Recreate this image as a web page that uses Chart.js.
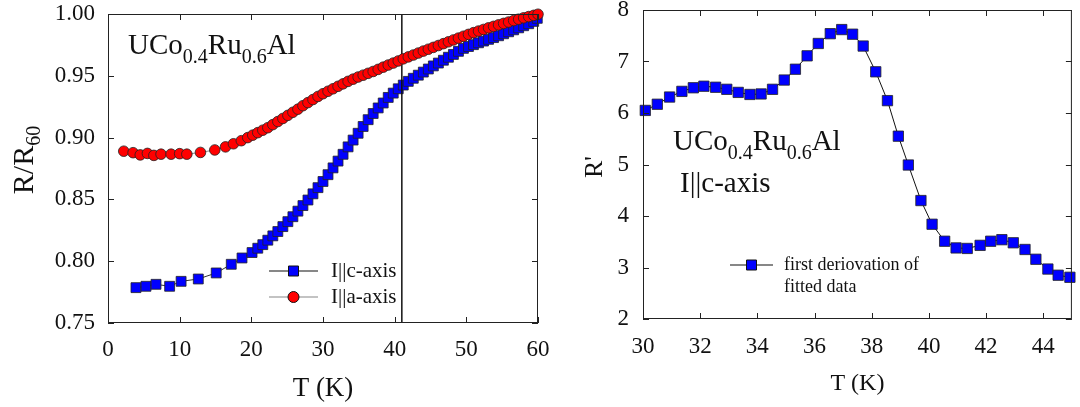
<!DOCTYPE html>
<html>
<head>
<meta charset="utf-8">
<script src="https://cdn.jsdelivr.net/npm/chart.js@4"></script>
<style>
html, body { margin: 0; padding: 0; background: #fff; }
#wrap { position: relative; width: 1080px; height: 407px; overflow: hidden; }
canvas { position: absolute; top: 0; }
</style>
</head>
<body>
<div id="wrap">
  <canvas id="left" width="560" height="407" style="left:0"></canvas>
  <canvas id="right" width="500" height="407" style="left:580px"></canvas>
</div>
<script>
// R/R60 vs T, current along c-axis (blue squares)
const blueT = [3.9, 5.3, 6.7, 8.6, 10.2, 12.6, 15.1, 17.2, 18.7,
    20.1, 20.9, 21.6, 22.3, 23.0, 23.7, 24.4, 25.1, 25.8, 26.5, 27.2, 27.9, 28.6, 29.3, 30.0,
    30.7, 31.4, 32.1, 32.8, 33.5, 34.2, 34.9, 35.6, 36.3, 37.0, 37.7, 38.4, 39.1, 39.8, 40.5,
    41.2, 41.9, 42.6, 43.3, 44.0, 44.7, 45.4, 46.1, 46.8, 47.5, 48.2, 48.9, 49.6, 50.3, 51.0,
    51.7, 52.4, 53.1, 53.8, 54.5, 55.2, 55.9, 56.6, 57.3, 58.0, 58.7, 59.4, 59.9];
const blueR = [0.7786, 0.7797, 0.7813, 0.7797, 0.7837, 0.7856, 0.7905, 0.7975, 0.8026,
    0.8070, 0.8105, 0.8134, 0.8170, 0.8205, 0.8240, 0.8280, 0.8320, 0.8360, 0.8405, 0.8450, 0.8495, 0.8545, 0.8595, 0.8645,
    0.8700, 0.8755, 0.8810, 0.8865, 0.8925, 0.8980, 0.9035, 0.9090, 0.9145, 0.9195, 0.9240, 0.9280, 0.9325, 0.9360, 0.9395,
    0.9425, 0.9455, 0.9480, 0.9505, 0.9530, 0.9555, 0.9580, 0.9603, 0.9626, 0.9650, 0.9673, 0.9698, 0.9722, 0.9737, 0.9752,
    0.9767, 0.9781, 0.9795, 0.9809, 0.9824, 0.9840, 0.9856, 0.9872, 0.9888, 0.9905, 0.9921, 0.9940, 0.9965];

// current along a-axis (red circles)
const redT = [2.2, 3.5, 4.5, 5.5, 6.4, 7.4, 8.8, 10.0, 11.0, 12.9, 14.9, 16.4, 17.5, 18.6, 19.5,
    20.2, 20.9, 21.6, 22.3, 23.0, 23.7, 24.4, 25.1, 25.8, 26.5, 27.2, 27.9, 28.6, 29.3, 30.0,
    30.7, 31.4, 32.1, 32.8, 33.5, 34.2, 34.9, 35.6, 36.3, 37.0, 37.7, 38.4, 39.1, 39.8, 40.5,
    41.2, 41.9, 42.6, 43.3, 44.0, 44.7, 45.4, 46.1, 46.8, 47.5, 48.2, 48.9, 49.6, 50.3, 51.0,
    51.7, 52.4, 53.1, 53.8, 54.5, 55.2, 55.9, 56.6, 57.3, 58.0, 58.7, 59.4, 60.0];
const redR = [0.8890, 0.8878, 0.8860, 0.8872, 0.8856, 0.8866, 0.8866, 0.8870, 0.8866, 0.8880, 0.8900, 0.8925, 0.8950, 0.8975, 0.9000,
    0.9020, 0.9040, 0.9060, 0.9080, 0.9105, 0.9130, 0.9155, 0.9180, 0.9205, 0.9230, 0.9258, 0.9283, 0.9308, 0.9333, 0.9355,
    0.9375, 0.9395, 0.9415, 0.9435, 0.9455, 0.9473, 0.9490, 0.9505, 0.9520, 0.9535, 0.9552, 0.9570, 0.9587, 0.9603, 0.9620,
    0.9637, 0.9653, 0.9668, 0.9684, 0.9700, 0.9715, 0.9730, 0.9745, 0.9760, 0.9775, 0.9790, 0.9805, 0.9820, 0.9835, 0.9849,
    0.9862, 0.9875, 0.9888, 0.9900, 0.9912, 0.9924, 0.9935, 0.9947, 0.9958, 0.9969, 0.9979, 0.9989, 0.9998];

const markerT = 41; // vertical line on the left panel

// first derivative of fitted data (right panel)
const derivT = [30.08, 30.5, 30.93, 31.36, 31.76, 32.13, 32.54, 32.93, 33.33, 33.74, 34.13, 34.53, 34.94,
    35.33, 35.74, 36.13, 36.55, 36.95, 37.33, 37.7, 38.14, 38.55, 38.93, 39.28, 39.72, 40.11,
    40.55, 40.95, 41.34, 41.79, 42.16, 42.55, 42.95, 43.36, 43.74, 44.16, 44.52, 44.93];
const derivR = [6.05, 6.17, 6.31, 6.42, 6.49, 6.52, 6.50, 6.46, 6.40, 6.36, 6.37, 6.46, 6.64,
    6.85, 7.11, 7.35, 7.54, 7.62, 7.53, 7.30, 6.80, 6.24, 5.55, 4.99, 4.30, 3.84,
    3.51, 3.38, 3.37, 3.43, 3.51, 3.54, 3.48, 3.35, 3.16, 2.97, 2.85, 2.81];

const leftX = { min: 0, max: 60, step: 10 };
const leftY = { min: 0.75, max: 1.0, step: 0.05 };
const rightX = { min: 30, max: 45, step: 2 };
const rightY = { min: 2, max: 8, step: 1 };

const FONT = 'Liberation Serif';
const INK = '#111';
const BLUE = '#0000ff';
const RED = '#ff0000';

const pts = (xs, ys) => xs.map((x, i) => ({ x, y: ys[i] }));

// text runs with subscripts: [[text, isSub], ...]
function richText(ctx, parts, x, y, size, subSize, measureOnly) {
    let w = 0;
    parts.forEach(([s, sub]) => {
        ctx.font = (sub ? subSize : size) + 'px "' + FONT + '"';
        if (!measureOnly) ctx.fillText(s, x + w, sub ? y + size * 0.32 : y);
        w += ctx.measureText(s).width;
    });
    return w;
}

const formula = [['UCo', false], ['0.4', true], ['Ru', false], ['0.6', true], ['Al', false]];

function drawFrame(chart) {
    const { ctx, chartArea: a, scales: { x, y } } = chart;
    const tl = 6;
    ctx.save();
    ctx.strokeStyle = '#222';
    ctx.lineWidth = 1;
    ctx.strokeRect(a.left + 0.5, a.top + 0.5, a.right - a.left - 1, a.bottom - a.top - 1);
    ctx.beginPath();
    x.ticks.forEach(t => {
        const px = Math.round(x.getPixelForValue(t.value)) + 0.5;
        ctx.moveTo(px, a.bottom); ctx.lineTo(px, a.bottom - tl);
        ctx.moveTo(px, a.top); ctx.lineTo(px, a.top + tl);
    });
    y.ticks.forEach(t => {
        const py = Math.round(y.getPixelForValue(t.value)) + 0.5;
        ctx.moveTo(a.left, py); ctx.lineTo(a.left + tl, py);
        ctx.moveTo(a.right, py); ctx.lineTo(a.right - tl, py);
    });
    ctx.stroke();
    ctx.restore();
}

function legendMark(ctx, x1, x2, y, lineColor, shape, fill, size) {
    ctx.strokeStyle = lineColor;
    ctx.lineWidth = 1.2;
    ctx.beginPath(); ctx.moveTo(x1, y); ctx.lineTo(x2, y); ctx.stroke();
    const cx = (x1 + x2) / 2;
    ctx.fillStyle = fill;
    ctx.strokeStyle = '#111';
    ctx.lineWidth = 1;
    ctx.beginPath();
    if (shape === 'rect') ctx.rect(cx - size / 2, y - size / 2, size, size);
    else ctx.arc(cx, y, size / 2, 0, Math.PI * 2);
    ctx.fill(); ctx.stroke();
}

function rotatedTitle(ctx, parts, cx, cy, size, subSize) {
    ctx.save();
    ctx.translate(cx, cy);
    ctx.rotate(-Math.PI / 2);
    ctx.fillStyle = INK;
    ctx.textBaseline = 'middle';
    const w = richText(ctx, parts, 0, 0, size, subSize, true);
    richText(ctx, parts, -w / 2, 0, size, subSize);
    ctx.restore();
}

const leftDecor = {
    id: 'leftDecor',
    afterDraw(chart) {
        const ctx = chart.ctx;
        drawFrame(chart);
        ctx.save();
        ctx.fillStyle = INK;
        ctx.textBaseline = 'alphabetic';
        richText(ctx, formula, 128, 54, 29, 20);
        rotatedTitle(ctx, [['R/R', false], ['60', true]], 25, 160, 30, 20);
        legendMark(ctx, 269, 318, 271, '#111', 'rect', BLUE, 10);
        legendMark(ctx, 269, 318, 297, '#888', 'circle', RED, 11);
        ctx.fillStyle = INK;
        ctx.textBaseline = 'middle';
        ctx.font = '21px "' + FONT + '"';
        ctx.fillText('I||c-axis', 331, 271);
        ctx.fillText('I||a-axis', 331, 297);
        ctx.restore();
    }
};

const rightDecor = {
    id: 'rightDecor',
    afterDraw(chart) {
        const ctx = chart.ctx;
        drawFrame(chart);
        ctx.save();
        ctx.fillStyle = INK;
        ctx.textBaseline = 'alphabetic';
        richText(ctx, formula, 93, 150, 29, 20);
        ctx.font = '29px "' + FONT + '"';
        ctx.fillText('I||c-axis', 100, 192);
        rotatedTitle(ctx, [["R'", false]], 15, 167, 26, 18);
        legendMark(ctx, 150, 193, 265, '#111', 'rect', BLUE, 10);
        ctx.fillStyle = INK;
        ctx.textBaseline = 'middle';
        ctx.font = '18px "' + FONT + '"';
        ctx.fillText('first deriovation of', 204, 265);
        ctx.fillText('fitted data', 204, 287);
        ctx.restore();
    }
};

function axis(range, opts) {
    return {
        type: 'linear',
        min: range.min,
        max: range.max,
        grid: { display: false, drawTicks: false },
        border: { display: false },
        ticks: Object.assign({
            stepSize: range.step,
            includeBounds: false,
            color: INK,
            font: { family: FONT, size: 23 },
            maxRotation: 0,
            autoSkip: false
        }, opts.ticks || {}),
        title: opts.title || { display: false },
        afterFit: opts.afterFit
    };
}

Chart.defaults.animation = false;

new Chart(document.getElementById('left'), {
    type: 'scatter',
    data: {
        datasets: [
            {
                label: 'I||a-axis',
                data: pts(redT, redR),
                showLine: true,
                borderColor: '#888',
                borderWidth: 1,
                pointStyle: 'circle',
                pointRadius: 5.3,
                pointBackgroundColor: RED,
                pointBorderColor: '#222',
                pointBorderWidth: 0.8,
                clip: false,
                order: 0
            },
            {
                label: 'T = 41 K',
                data: [{ x: markerT, y: leftY.min }, { x: markerT, y: leftY.max }],
                showLine: true,
                borderColor: '#111',
                borderWidth: 1.5,
                pointRadius: 0,
                order: 1
            },
            {
                label: 'I||c-axis',
                data: pts(blueT, blueR),
                showLine: true,
                borderColor: '#333',
                borderWidth: 1,
                pointStyle: 'rect',
                pointRadius: 7,
                pointBackgroundColor: BLUE,
                pointBorderColor: '#222',
                pointBorderWidth: 0.8,
                clip: false,
                order: 2
            }
        ]
    },
    options: {
        responsive: false,
        devicePixelRatio: 1,
        layout: { padding: { top: 14, right: 22, bottom: 0, left: 0 } },
        plugins: { legend: { display: false }, tooltip: { enabled: false } },
        scales: {
            x: axis(leftX, {
                ticks: { padding: 13 },
                title: { display: true, text: 'T (K)', color: INK, font: { family: FONT, size: 27 }, padding: { top: 0, bottom: 2 } },
                afterFit: s => { s.height = 84; s.paddingLeft = 0; s.paddingRight = 0; }
            }),
            y: axis(leftY, {
                ticks: { padding: 13, callback: v => v.toFixed(2) },
                afterFit: s => { s.width = 108; s.paddingTop = 0; s.paddingBottom = 0; }
            })
        }
    },
    plugins: [leftDecor]
});

new Chart(document.getElementById('right'), {
    type: 'scatter',
    data: {
        datasets: [{
            label: 'first deriovation of fitted data',
            data: pts(derivT, derivR),
            showLine: true,
            borderColor: '#111',
            borderWidth: 1,
            pointStyle: 'rect',
            pointRadius: 7.3,
            pointBackgroundColor: BLUE,
            pointBorderColor: '#222',
            pointBorderWidth: 0.8,
            clip: false
        }]
    },
    options: {
        responsive: false,
        devicePixelRatio: 1,
        layout: { padding: { top: 10, right: 7, bottom: 0, left: 0 } },
        plugins: { legend: { display: false }, tooltip: { enabled: false } },
        scales: {
            x: axis(rightX, {
                ticks: { padding: 14 },
                title: { display: true, text: 'T (K)', color: INK, font: { family: FONT, size: 24 }, padding: { top: 0, bottom: 9 } },
                afterFit: s => { s.height = 88; s.paddingLeft = 0; s.paddingRight = 0; }
            }),
            y: axis(rightY, {
                ticks: { padding: 14 },
                afterFit: s => { s.width = 63; s.paddingTop = 0; s.paddingBottom = 0; }
            })
        }
    },
    plugins: [rightDecor]
});
</script>
</body>
</html>
